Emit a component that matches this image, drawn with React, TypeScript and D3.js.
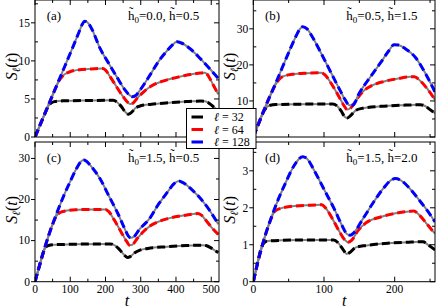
import React from "react";
import * as d3 from "d3";

type P = [number, number];

// ---------- data (t, S_l(t)) ----------
const aBlack: P[] = [[0,0],[20,2.2],[32,3.5],[38,4.1],[45,4.45],[55,4.65],[80,4.75],[150,4.8],[222,4.82],[232,4.6],[245,4.0],[256,3.3],[265,3.0],[273,3.2],[285,3.8],[300,4.1],[330,4.3],[380,4.5],[430,4.65],[470,4.72],[482,4.7],[495,4.4],[508,3.9],[520,3.5]];
const aRed: P[] = [[0,0],[40,4.4],[60,6.6],[68,7.4],[78,8.0],[95,8.5],[120,8.8],[160,8.95],[192,9.0],[200,8.8],[212,8.0],[230,6.7],[250,5.3],[262,4.6],[270,4.35],[278,4.45],[290,5.1],[310,6.0],[330,6.7],[360,7.3],[400,7.8],[440,8.2],[470,8.4],[483,8.45],[492,8.0],[505,6.9],[520,5.6]];
const aBlue: P[] = [[0,0],[40,4.4],[80,8.8],[110,12.1],[125,13.8],[134,14.8],[141,15.2],[148,15.1],[160,14.3],[185,11.6],[210,9.6],[232,7.9],[255,6.2],[268,5.5],[276,5.3],[284,5.4],[300,6.3],[327,8.2],[350,9.9],[374,11.3],[390,12.1],[402,12.5],[415,12.35],[440,11.6],[469,10.3],[495,9.0],[520,7.7]];

const bBlack: P[] = [[0,0],[10,4.9],[15,7.2],[19,8.3],[24,8.8],[32,9.0],[60,9.1],[112,9.15],[118,8.7],[124,7.3],[130,5.5],[133,5.3],[138,6.0],[145,7.4],[155,8.0],[180,8.5],[210,8.8],[236,8.95],[243,8.6],[250,7.6],[257,6.6]];
const bRed: P[] = [[0,0],[15,7.4],[30,14.0],[36,15.9],[42,16.8],[55,17.4],[75,17.7],[96,17.8],[101,17.3],[110,14.9],[120,11.6],[128,8.8],[133,7.6],[138,8.1],[146,10.4],[155,12.6],[168,14.3],[185,15.4],[205,16.2],[222,16.7],[228,16.7],[236,15.6],[246,13.4],[257,10.3]];
const bBlue: P[] = [[0,0],[15,7.4],[34,16.0],[50,23.4],[60,27.8],[66,30.0],[70,30.6],[76,30.0],[84,27.6],[95,23.6],[110,17.8],[122,13.2],[130,10.3],[136,8.8],[141,8.9],[150,12.2],[165,16.5],[180,20.6],[192,24.0],[199,25.6],[205,25.5],[215,24.5],[230,21.9],[243,17.8],[257,12.5]];

const cBlack: P[] = [[0,0],[14,4.3],[24,7.3],[30,8.4],[38,8.8],[55,9.0],[100,9.1],[215,9.2],[225,8.9],[238,8.0],[252,6.6],[262,5.9],[270,6.1],[282,7.0],[298,7.7],[320,8.1],[374,8.5],[430,8.8],[475,8.9],[485,8.8],[498,8.3],[510,7.6],[520,7.1]];
const cRed: P[] = [[0,0],[28,8.3],[50,14.0],[60,15.9],[70,16.8],[85,17.2],[120,17.5],[160,17.6],[200,17.6],[210,17.0],[225,15.0],[245,12.0],[260,9.8],[268,8.9],[276,9.0],[290,10.5],[310,12.4],[327,13.6],[350,14.6],[374,15.3],[420,16.1],[450,16.5],[462,16.6],[472,16.2],[488,14.6],[505,12.8],[520,11.5]];
const cBlue: P[] = [[0,0],[14,4.3],[28,8.4],[57,15.6],[80,20.6],[100,24.4],[118,27.6],[130,29.2],[138,29.6],[146,29.3],[160,28.0],[185,25.0],[210,20.8],[235,16.6],[255,12.8],[265,11.1],[272,10.7],[280,10.9],[295,12.6],[327,15.6],[350,18.8],[374,21.6],[395,23.9],[408,24.5],[420,24.1],[445,22.4],[469,20.3],[495,17.4],[520,14.0]];

const dBlack: P[] = [[0,0],[6,0.5],[11,0.9],[15,1.05],[20,1.1],[40,1.12],[80,1.13],[114,1.13],[120,1.05],[127,0.87],[132,0.75],[137,0.8],[145,0.93],[160,0.98],[190,1.04],[220,1.07],[240,1.08],[247,1.0],[257,0.86]];
const dRed: P[] = [[0,0],[6,0.5],[13,1.0],[24,1.65],[30,1.9],[38,1.98],[55,2.04],[80,2.07],[97,2.08],[102,2.0],[112,1.7],[122,1.35],[130,1.12],[134,1.07],[139,1.12],[148,1.38],[160,1.6],[180,1.75],[201,1.85],[220,1.9],[227,1.91],[235,1.8],[246,1.55],[257,1.3]];
const dBlue: P[] = [[0,0],[6,0.5],[13,1.0],[29.6,1.95],[45,2.65],[58,3.15],[65,3.33],[70,3.38],[76,3.33],[85,3.05],[100,2.5],[115,1.95],[126,1.5],[132,1.3],[137,1.26],[142,1.32],[155,1.7],[170,2.15],[185,2.55],[195,2.75],[201,2.79],[208,2.75],[220,2.55],[235,2.2],[247,1.9],[257,1.62]];

const panelLabels = ["(a)", "(b)", "(c)", "(d)"];
const h0Values = ["0.0", "0.5", "1.5", "1.5"];
const hValues = ["0.5", "1.5", "0.5", "2.0"];
const xMaxes = [522, 257, 522, 257];
const yMaxes = [18, 38, 34, 3.78];
const yMajorSteps = [5, 10, 10, 1];
const xMajorStep = 100;
const legendSizes = ["32", "64", "128"];
const seriesColors = ["#000000", "#ff0000", "#0000ff"];
const panelSeries: P[][][] = [
  [aBlack, aRed, aBlue],
  [bBlack, bRed, bBlue],
  [cBlack, cRed, cBlue],
  [dBlack, dRed, dBlue],
];

// ---------- layout ----------
const W = 436, H = 308;
const boxes = [
  { x0: 35, x1: 219, y0: 0, y1: 137 },
  { x0: 253.3, x1: 435, y0: 0, y1: 137 },
  { x0: 35, x1: 219, y0: 142, y1: 281.7 },
  { x0: 253.3, x1: 435, y0: 142, y1: 281.7 },
];
const FONT = "Liberation Serif";

function Panel({ i }: { i: number }) {
  const b = boxes[i];
  const x = d3.scaleLinear().domain([0, xMaxes[i]]).range([b.x0, b.x1]);
  const y = d3.scaleLinear().domain([0, yMaxes[i]]).range([b.y1, b.y0]);
  const line = d3.line<P>().x(d => x(d[0])).y(d => y(d[1])).curve(d3.curveMonotoneX);
  const xMaj = d3.range(0, xMaxes[i] + 1e-9, xMajorStep);
  const xMin = d3.range(xMajorStep / 2, xMaxes[i], xMajorStep);
  const ys = yMajorSteps[i];
  const yMaj = d3.range(0, yMaxes[i] + 1e-9, ys);
  const yMin = d3.range(ys / 2, yMaxes[i], ys);
  const bottom = i >= 2;
  const clipId = `clip${i}`;
  // panel (b)'s "0" label sits under the legend box in the reference
  const hideLabel = (v: number) => i === 1 && v === 0;
  return (
    <g>
      <defs>
        <clipPath id={clipId}>
          <rect x={b.x0} y={b.y0} width={b.x1 - b.x0} height={b.y1 - b.y0} />
        </clipPath>
      </defs>
      <g clipPath={`url(#${clipId})`}>
        {panelSeries[i].map((s, k) => (
          <g key={k}>
            <path d={line(s) || ""} fill="none" stroke="#808080" strokeWidth={2} />
            <path d={line(s) || ""} fill="none" stroke={seriesColors[k]} strokeWidth={3} strokeDasharray="8,4" />
          </g>
        ))}
      </g>
      <rect x={b.x0} y={b.y0} width={b.x1 - b.x0} height={b.y1 - b.y0} fill="none" stroke="#000" strokeWidth={1} />
      {xMaj.map(v => (
        <g key={"xM" + v}>
          <line x1={x(v)} x2={x(v)} y1={b.y1} y2={b.y1 - 5} stroke="#000" />
          <line x1={x(v)} x2={x(v)} y1={b.y0} y2={b.y0 + 5} stroke="#000" />
          {bottom && (
            <text x={x(v)} y={b.y1 + 11.5} textAnchor="middle" fontSize={11.5}>{v}</text>
          )}
        </g>
      ))}
      {xMin.map(v => (
        <g key={"xm" + v}>
          <line x1={x(v)} x2={x(v)} y1={b.y1} y2={b.y1 - 3} stroke="#000" />
          <line x1={x(v)} x2={x(v)} y1={b.y0} y2={b.y0 + 3} stroke="#000" />
        </g>
      ))}
      {yMaj.map(v => (
        <g key={"yM" + v}>
          <line x1={b.x0 - 4} x2={b.x0} y1={y(v)} y2={y(v)} stroke="#000" />
          <line x1={b.x1} x2={b.x1 - 5} y1={y(v)} y2={y(v)} stroke="#000" />
          {!hideLabel(v) && (
            <text x={b.x0 - 5} y={y(v) + 3.8} textAnchor="end" fontSize={11.5}>{v}</text>
          )}
        </g>
      ))}
      {yMin.map(v => (
        <g key={"ym" + v}>
          <line x1={b.x0} x2={b.x0 + 3} y1={y(v)} y2={y(v)} stroke="#000" />
          <line x1={b.x1} x2={b.x1 - 3} y1={y(v)} y2={y(v)} stroke="#000" />
        </g>
      ))}
      <text x={b.x0 + 11.7} y={b.y0 + 19.5} fontSize={13}>{panelLabels[i]}</text>
      <text x={b.x0 + 93} y={b.y0 + 19.5} fontSize={13}>
        {"h\u0303"}<tspan dy={3} fontSize={9}>0</tspan><tspan dy={-3}>{"=" + h0Values[i] + ", h\u0303=" + hValues[i]}</tspan>
      </text>
      <text transform={`translate(${b.x0 - 18},${(b.y0 + b.y1) / 2 - 2}) rotate(-90)`} textAnchor="middle" fontSize={16}>
        <tspan fontStyle="italic">S</tspan><tspan fontSize={11} dy={3} fontStyle="italic">ℓ</tspan><tspan dy={-3}>(</tspan><tspan fontStyle="italic">t</tspan><tspan>)</tspan>
      </text>
      {bottom && (
        <text x={(b.x0 + b.x1) / 2} y={306} textAnchor="middle" fontSize={16} fontStyle="italic">t</text>
      )}
    </g>
  );
}

function Legend() {
  const rows = [117, 129.5, 142];
  return (
    <g>
      <rect x={186.5} y={108.5} width={69.5} height={40} fill="#fff" stroke="#000" strokeWidth={1} />
      {legendSizes.map((s, k) => (
        <g key={s}>
          <line x1={191.5} x2={203} y1={rows[k]} y2={rows[k]} stroke={seriesColors[k]} strokeWidth={3} />
          <text x={214} y={rows[k] + 4} fontSize={12}>
            <tspan fontStyle="italic">ℓ</tspan>{" = " + s}
          </text>
        </g>
      ))}
    </g>
  );
}

export default function App() {
  return (
    <svg width={W} height={H} fontFamily={FONT} style={{ position: "absolute", left: 0, top: 0, background: "#fff", fontFamily: FONT }}>
      {[0, 1, 2, 3].map(i => <Panel key={i} i={i} />)}
      <Legend />
    </svg>
  );
}
